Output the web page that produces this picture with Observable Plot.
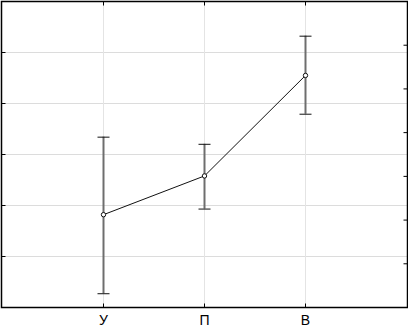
<!DOCTYPE html>
<html>
<head>
<meta charset="utf-8">
<script src="https://cdn.jsdelivr.net/npm/d3@7"></script>
<script src="https://cdn.jsdelivr.net/npm/@observablehq/plot@0.6"></script>
<style>
  html, body { margin: 0; padding: 0; background: #fff; }
  #chart svg { display: block; }
</style>
</head>
<body>
<div id="chart"></div>
<script>
const categories = ["У", "П", "В"];
const means = [1.82, 2.58, 4.55];
const lows = [0.27, 1.93, 3.79];
const highs = [3.34, 3.20, 5.32];
const leftTicks = [0, 1, 2, 3, 4, 5, 6];
const rightTicks = [0, 0.857, 1.714, 2.571, 3.429, 4.286, 5.143, 6];

const data = categories.map((c, i) => ({cat: c, mean: means[i], lo: lows[i], hi: highs[i]}));

const capSym = { draw(ctx) { ctx.moveTo(-6, 0); ctx.lineTo(6, 0); } };
const leftTickSym = { draw(ctx) { ctx.moveTo(0, 0); ctx.lineTo(4, 0); } };
const rightTickSym = { draw(ctx) { ctx.moveTo(-4, 0); ctx.lineTo(0, 0); } };
const topTickSym = { draw(ctx) { ctx.moveTo(0, 0); ctx.lineTo(0, 4); } };
const bottomTickSym = { draw(ctx) { ctx.moveTo(0, -4); ctx.lineTo(0, 0); } };

const chart = Plot.plot({
  width: 408,
  height: 327,
  marginTop: 1,
  marginLeft: 1,
  marginRight: 1,
  marginBottom: 20,
  style: { fontFamily: "Liberation Sans, Arial, sans-serif", background: "#fff" },
  x: { type: "point", domain: categories, padding: 1 },
  y: { domain: [0, 6] },
  marks: [
    Plot.gridY(leftTicks, { stroke: "#dcdcdc", strokeOpacity: 1 }),
    Plot.gridX(categories, { stroke: "#e4e4e4", strokeOpacity: 1 }),
    Plot.axisY({ ticks: [], tickSize: 0, label: null, tickFormat: () => "" }),
    Plot.axisX(categories, { tickSize: 0, tickPadding: 8, fontSize: 14, label: null, fill: "#000" }),
    Plot.dot(leftTicks, { y: d => d, frameAnchor: "left", symbol: leftTickSym, stroke: "#000", strokeWidth: 1, r: 4 }),
    Plot.dot(rightTicks, { y: d => d, frameAnchor: "right", symbol: rightTickSym, stroke: "#000", strokeWidth: 1, r: 4 }),
    Plot.dot(categories, { x: d => d, frameAnchor: "top", symbol: topTickSym, stroke: "#000", strokeWidth: 1, r: 4 }),
    Plot.dot(categories, { x: d => d, frameAnchor: "bottom", symbol: bottomTickSym, stroke: "#000", strokeWidth: 1, r: 4 }),
    Plot.ruleX(data, { x: "cat", y1: "lo", y2: "hi", stroke: "#6e6e6e", strokeWidth: 2 }),
    Plot.dot(data, { x: "cat", y: "lo", symbol: capSym, stroke: "#111", strokeWidth: 1, r: 6 }),
    Plot.dot(data, { x: "cat", y: "hi", symbol: capSym, stroke: "#111", strokeWidth: 1, r: 6 }),
    Plot.line(data, { x: "cat", y: "mean", stroke: "#111", strokeWidth: 1 }),
    Plot.dot(data, { x: "cat", y: "mean", r: 2.2, stroke: "#111", fill: "#fff", strokeWidth: 1 }),
    Plot.frame({ stroke: "#000", strokeWidth: 1.5 })
  ]
});
document.getElementById("chart").appendChild(chart);
</script>
</body>
</html>
